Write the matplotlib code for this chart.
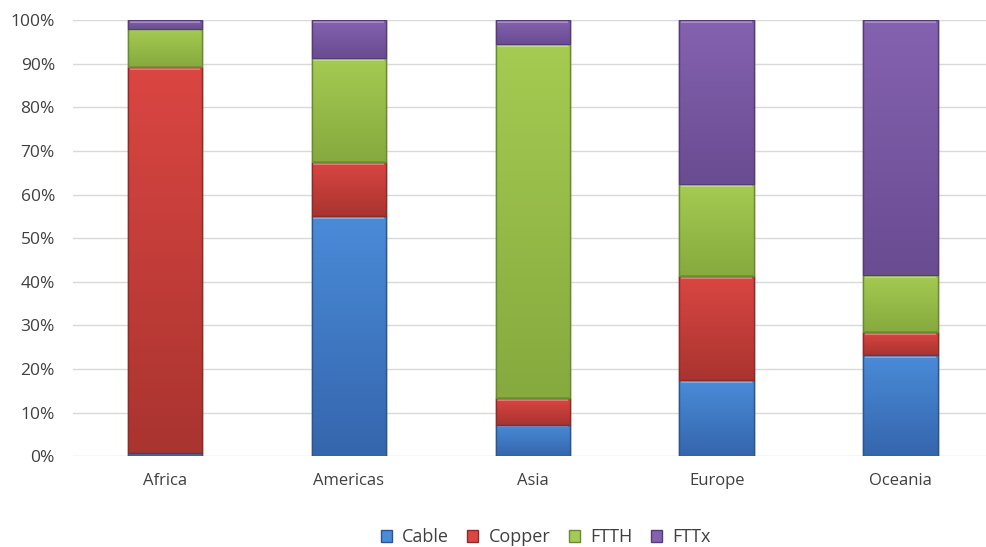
import numpy as np
import matplotlib
matplotlib.use("Agg")
import matplotlib.pyplot as plt
from matplotlib.colors import LinearSegmentedColormap
from matplotlib.ticker import PercentFormatter

plt.rcParams['font.family'] = ['Open Sans', 'DejaVu Sans']

regions = ['Africa', 'Americas', 'Asia', 'Europe', 'Oceania']
cable = [0.8, 55.0, 7.2, 17.4, 23.2]
copper = [88.4, 12.4, 6.1, 23.9, 5.2]
ftth = [8.8, 23.9, 81.2, 21.1, 13.1]
fttx = [2.0, 8.7, 5.5, 37.6, 58.5]

# name, values, light (top), dark (bottom), edge
series = [('Cable', cable, '#4A8BD8', '#3566AD', '#2C5590'),
          ('Copper', copper, '#DA4642', '#AA3430', '#8E2A27'),
          ('FTTH', ftth, '#A5CB52', '#86AA3E', '#6A8930'),
          ('FTTx', fttx, '#8562B0', '#6A4C92', '#553C77')]

fig = plt.figure(figsize=(9.87, 5.47), dpi=100)
ax = fig.add_axes([0.074, 0.166, 0.926, 0.797])

x = np.arange(len(regions))
width = 0.405
bottom = np.zeros(len(regions))
grad = np.linspace(1, 0, 64).reshape(-1, 1)
for name, vals, light, dark, edge in series:
    vals = np.array(vals)
    bars = ax.bar(x, vals, width, bottom=bottom, color=light, edgecolor=edge,
                  linewidth=1.0, label=name, zorder=3)
    cmap = LinearSegmentedColormap.from_list(name, [dark, light])
    for b in bars:
        bx, by = b.get_x(), b.get_y()
        im = ax.imshow(grad, cmap=cmap, aspect='auto', zorder=3.5,
                       extent=(bx, bx + b.get_width(), by, by + b.get_height()),
                       interpolation='bilinear')
        im.set_clip_path(b)
        # thin highlight along the top of each segment
        if b.get_height() > 1.5:
            ax.plot([bx + 0.01, bx + b.get_width() - 0.01],
                    [by + b.get_height() - 0.35] * 2, color='white',
                    alpha=0.35, linewidth=1.2, zorder=4, solid_capstyle='butt')
        ax.add_patch(plt.Rectangle((bx, by), b.get_width(), b.get_height(),
                                   fill=False, edgecolor=edge, linewidth=1.0,
                                   zorder=4.5))
    bottom += vals

ax.set_xlim(-0.5, 4.47)
ax.set_ylim(0, 100)
ax.set_yticks(np.arange(0, 101, 10))
ax.yaxis.set_major_formatter(PercentFormatter(decimals=0))
ax.set_xticks(x)
ax.set_xticklabels(regions)
ax.grid(axis='y', color='#D9D9D9', linewidth=1.0, zorder=0)
for s in ax.spines.values():
    s.set_visible(False)
ax.tick_params(length=0, colors='#404040')
ax.tick_params(axis='y', pad=13, labelsize=12.5)
ax.tick_params(axis='x', pad=12, labelsize=12)

fig.legend(loc='center', bbox_to_anchor=(0.553, 0.018), ncol=4, frameon=False,
           fontsize=13, handlelength=0.6, handleheight=0.6, handletextpad=0.6,
           columnspacing=1.0, labelcolor='#404040')

fig.savefig('out.png', dpi=100)
